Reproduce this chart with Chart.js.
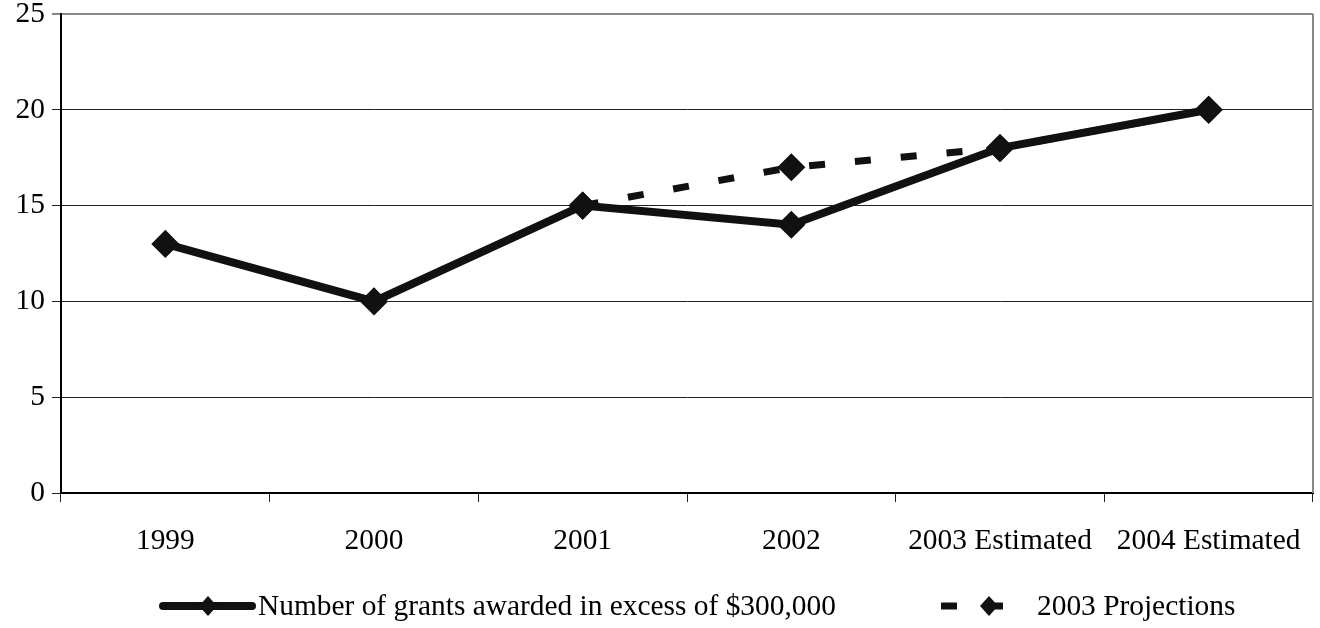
<!DOCTYPE html>
<html>
<head>
<meta charset="utf-8">
<title>Grants awarded in excess of $300,000</title>
<script src="https://cdn.jsdelivr.net/npm/chart.js@4/dist/chart.umd.min.js"></script>
<style>
  html, body { margin: 0; padding: 0; background: #fff; }
  #wrap { width: 1320px; height: 628px; }
</style>
</head>
<body>
<div id="wrap"><canvas id="grants" width="1320" height="628"></canvas></div>
<script>
const years = ['1999', '2000', '2001', '2002', '2003 Estimated', '2004 Estimated'];
const grantsAwarded = [13, 10, 15, 14, 18, 20];
const projections2003 = [null, null, 15, 17, 18, 20];
const yTicks = [0, 5, 10, 15, 20, 25];

const serif = '"Liberation Serif", "Times New Roman", serif';
const ink = '#111';

// bottom legend, drawn by hand so the line + marker swatches look right
const bottomLegend = {
    id: 'bottomLegend',
    afterDraw(chart) {
        const ctx = chart.ctx;
        const ds = chart.data.datasets;
        const y = 606;
        const items = [
            { x0: 163, x1: 252, mx: 208, tx: 258, set: ds[0] },
            { x0: 941, x1: 1003, mx: 989, tx: 1037, set: ds[1] }
        ];
        ctx.save();
        items.forEach(it => {
            ctx.strokeStyle = it.set.borderColor;
            ctx.lineWidth = it.set.borderWidth;
            ctx.lineCap = it.set.borderDash ? 'butt' : 'round';
            ctx.setLineDash(it.set.borderDash ? [16, 32] : []);
            ctx.beginPath();
            ctx.moveTo(it.x0, y);
            ctx.lineTo(it.x1, y);
            ctx.stroke();
            ctx.setLineDash([]);
            // diamond marker
            ctx.fillStyle = it.set.pointBackgroundColor;
            ctx.beginPath();
            ctx.moveTo(it.mx, y - 10);
            ctx.lineTo(it.mx + 9, y);
            ctx.lineTo(it.mx, y + 10);
            ctx.lineTo(it.mx - 9, y);
            ctx.closePath();
            ctx.fill();
            ctx.fillStyle = '#000';
            ctx.font = '29.4px ' + serif;
            ctx.textBaseline = 'middle';
            ctx.textAlign = 'left';
            ctx.fillText(it.set.label, it.tx, y + 1);
        });
        ctx.restore();
    }
};

// grey frame on the right-hand side of the plot area
const rightEdge = {
    id: 'rightEdge',
    beforeDatasetsDraw(chart) {
        const a = chart.chartArea;
        const ctx = chart.ctx;
        ctx.save();
        ctx.strokeStyle = '#888';
        ctx.lineWidth = 2;
        ctx.beginPath();
        ctx.moveTo(a.right, a.top);
        ctx.lineTo(a.right, a.bottom);
        ctx.stroke();
        ctx.restore();
    }
};

new Chart(document.getElementById('grants'), {
    type: 'line',
    data: {
        labels: years,
        datasets: [{
            label: 'Number of grants awarded in excess of $300,000',
            data: grantsAwarded,
            borderColor: ink,
            borderWidth: 8,
            pointStyle: 'rectRot',
            pointRadius: 13,
            pointBackgroundColor: ink,
            pointBorderColor: ink,
            pointBorderWidth: 1.5,
            tension: 0
        }, {
            label: '2003 Projections',
            data: projections2003,
            borderColor: ink,
            borderWidth: 7,
            borderDash: [16, 30],
            pointStyle: 'rectRot',
            pointRadius: 13,
            pointBackgroundColor: ink,
            pointBorderColor: ink,
            pointBorderWidth: 1.5,
            spanGaps: false,
            tension: 0
        }]
    },
    options: {
        responsive: false,
        animation: false,
        layout: { autoPadding: false, padding: { top: 14, right: 7, left: 0, bottom: 0 } },
        plugins: {
            legend: { display: false },
            tooltip: { enabled: false }
        },
        scales: {
            x: {
                offset: true,
                afterFit: s => { s.height = 135; s.paddingLeft = 0; s.paddingRight = 0; },
                border: { color: '#000', width: 2 },
                grid: {
                    offset: true,
                    drawOnChartArea: false,
                    drawTicks: true,
                    tickLength: 9,
                    color: '#222'
                },
                ticks: {
                    color: '#000',
                    padding: 22,
                    maxRotation: 0,
                    font: { family: serif, size: 29.4 }
                }
            },
            y: {
                min: 0,
                max: 25,
                afterFit: s => { s.width = 61; s.paddingTop = 0; s.paddingBottom = 0; },
                afterBuildTicks: s => { s.ticks = yTicks.map(v => ({ value: v })); },
                border: { color: '#000', width: 2 },
                grid: {
                    color: c => c.tick && c.tick.value === 25 ? '#888' : '#222',
                    lineWidth: c => c.tick && c.tick.value === 25 ? 2 : 1,
                    tickLength: 9
                },
                ticks: {
                    color: '#000',
                    padding: 7,
                    font: { family: serif, size: 29.4 }
                }
            }
        }
    },
    plugins: [rightEdge, bottomLegend]
});
</script>
</body>
</html>
